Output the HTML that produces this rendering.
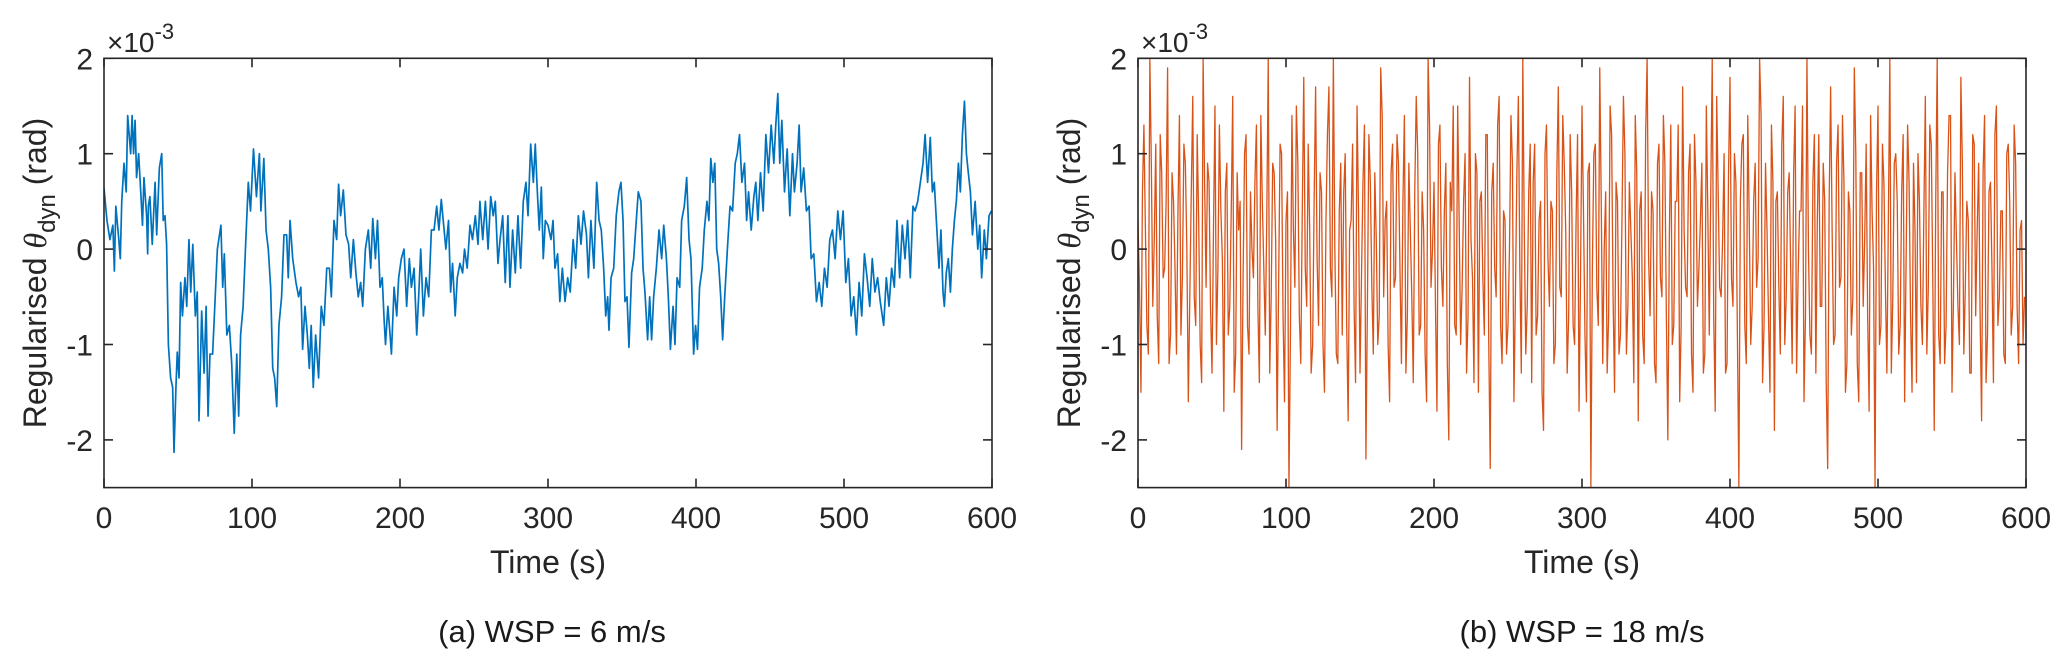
<!DOCTYPE html>
<html><head><meta charset="utf-8"><style>
html,body{margin:0;padding:0;background:#fff;}
svg{display:block;font-family:"Liberation Sans",sans-serif;}
</style></head><body>
<svg id="fig" width="2067" height="667" viewBox="0 0 2067 667" xmlns="http://www.w3.org/2000/svg"></svg>
<script>
const xTicks=[0,100,200,300,400,500,600];
const yTicks=[-2,-1,0,1,2];
const yTickLabels=["-2","-1","0","1","2"];
const blueT=[0,2,4,6,7,8,10,11,12,13.5,15,16,18,19,20,21,22,23.4,25,26,27,28.8,29.5,30,31,32.6,34.5,35.6,37.4,39,40,41.2,42.3,43.5,45,46.4,47.3,48.6,49.5,50.7,51.8,53,54.7,55.9,57.4,58.6,60,61.7,63,64.2,66,67.6,69,70.3,71.6,73.4,75,76.6,79,80.2,81.3,83,84.7,86.3,88,89.7,91,92.3,94,95.7,97.5,99,101,103,105,106,108,109.5,111,112.6,114,115.3,116.7,118.2,120,121.6,123.4,124.5,125.7,127.5,129.7,131.5,133,134.2,135.8,137.4,138.7,140,141.4,143,145,146.8,148.6,150.5,152.3,153.6,155.4,157.2,158.5,159.9,161.7,163.5,165.3,166.7,168.5,170.2,171.8,173.4,174.8,176.6,178.6,180.2,181.6,183.4,184.8,186.5,188,189.3,190.2,191.8,193.3,194.2,196,197.8,199.1,200.9,202.7,204.5,206.3,207.7,209.5,211.3,212.6,214,215.8,217.6,219.4,221.2,223,224.8,226.3,227.9,229.2,231,232.8,234.2,235.5,237.3,238.7,240.5,242.3,243.6,245.4,247.3,249,250.9,252.7,254,255.9,257.7,259.5,261.3,263,264.4,266.2,267.6,269.4,271.1,272.9,274.3,276.1,277.9,279.7,281.5,283.3,285.1,286.5,288.3,290.1,291.4,292.8,294.1,295.5,296.8,298.2,300,302,303.4,304.7,306.5,308,309.7,311.5,313.3,315,317,318.7,320.5,322.3,324,326,327.3,329,331,332.9,334.5,336,337.6,339,340.3,341.2,342.6,344.4,346.1,347.9,349.3,350.7,352,353.4,354.7,356.5,357.9,359.2,361,362.8,364.2,365.5,367.3,368.7,370,371.4,373.2,375,376.8,378.2,380,381.3,382.7,384.5,385.8,387.2,389,390.3,392.1,393.7,395.3,396.6,398.4,399.7,401,402.4,404.2,405.6,407.4,408.7,410,411.4,412.7,414,415.3,416.7,418,419.4,421.2,423,424.7,426.5,427.9,429.4,431,432.8,434.2,435.5,437.3,439.1,440.4,441.8,443.6,445.4,447.2,449,450.8,452.6,453.9,455.3,456.6,458,459.8,461.6,463.4,465.2,466.5,468.3,469.7,471,472.8,474.6,476.4,477.8,479.6,481.4,483.2,485,486.8,488.6,490.4,492.2,494,495.8,497.6,499.4,501.2,503,504.8,506.6,508.4,510.2,512,513.8,515.6,517.4,519.1,520.9,522.7,524.5,526.8,528.6,530.4,532.2,534,535.8,537.6,539.4,541.2,543,544.8,546.6,548,549.8,551.6,553.4,554.8,556.5,558.3,559.7,561,562.4,564.2,565.5,566.9,567.8,569.1,570.5,571.9,573.2,574.6,575.9,577.3,578.6,580,581.4,582.7,584,585.4,586.8,588.6,590.4,591.7,593,594.8,596.2,598,599.6];
const blueV=[0.64,0.30,0.10,0.25,-0.23,0.45,0.10,-0.10,0.50,0.90,0.60,1.40,1.00,1.40,1.00,1.35,0.75,1.00,0.55,0.25,0.75,0.35,-0.05,0.45,0.55,0.05,0.70,0.15,0.85,1.00,0.30,0.35,0.05,-1.00,-1.35,-1.45,-2.13,-1.45,-1.08,-1.35,-0.35,-0.70,-0.30,-0.60,0.10,-0.45,0.05,-0.70,-0.45,-1.80,-0.65,-1.30,-0.60,-1.75,-1.10,-1.10,-0.55,0.00,0.25,-0.40,-0.05,-0.90,-0.80,-1.20,-1.93,-1.10,-1.75,-0.90,-0.60,0.05,0.70,0.40,1.05,0.55,1.00,0.40,0.95,0.20,0.00,-0.40,-1.25,-1.35,-1.65,-0.80,-0.50,0.15,0.15,-0.30,0.30,-0.10,-0.35,-0.50,-0.40,-1.05,-0.60,-0.90,-1.25,-0.80,-1.45,-0.90,-1.35,-0.60,-0.80,-0.20,-0.20,-0.50,0.30,0.10,0.68,0.35,0.62,0.15,0.05,-0.30,0.10,-0.25,-0.50,-0.35,-0.60,0.00,0.20,-0.20,0.32,-0.10,0.30,-0.40,-0.30,-0.75,-1.00,-0.60,-0.90,-1.10,-0.40,-0.70,-0.30,-0.10,0.00,-0.60,-0.10,-0.40,-0.20,-0.90,-0.50,0.00,-0.70,-0.30,-0.50,0.20,0.20,0.45,0.20,0.52,0.30,0.00,0.30,-0.45,-0.15,-0.70,-0.30,-0.15,-0.25,0.00,-0.20,0.25,0.10,0.35,0.05,0.50,0.10,0.50,0.00,0.55,0.35,0.50,-0.15,0.10,0.35,-0.35,0.35,-0.40,0.20,-0.25,0.35,-0.20,0.50,0.70,0.35,1.10,0.70,1.10,0.60,0.20,0.65,-0.10,0.30,0.25,0.10,0.30,-0.20,-0.05,-0.55,-0.20,-0.55,-0.30,-0.45,0.10,-0.20,0.35,0.05,0.40,0.15,-0.30,0.30,-0.20,0.70,0.30,0.20,-0.20,-0.70,-0.50,-0.85,-0.30,-0.20,0.35,0.60,0.70,0.30,-0.55,-0.50,-1.03,-0.25,-0.10,0.20,0.60,0.50,-0.20,-0.45,-0.95,-0.50,-0.95,-0.50,-0.20,0.20,-0.10,0.25,-0.10,-0.50,-1.05,-0.60,-1.00,-0.30,-0.40,0.30,0.45,0.75,0.10,-0.10,-1.10,-0.80,-1.05,-0.40,-0.20,0.20,0.50,0.30,0.95,0.70,0.90,0.00,-0.15,-0.50,-0.95,-0.50,0.00,0.45,0.40,0.90,1.00,1.20,0.70,0.90,0.30,0.60,0.20,0.55,0.70,0.30,0.80,0.40,1.20,0.80,1.30,0.90,1.30,1.63,0.90,1.35,0.60,1.05,0.35,1.00,0.60,0.90,1.30,0.60,0.85,0.40,0.45,-0.10,-0.05,-0.55,-0.35,-0.60,-0.20,-0.40,0.10,0.20,-0.10,0.40,0.10,0.40,-0.35,-0.10,-0.70,-0.50,-0.90,-0.35,-0.70,-0.05,-0.30,-0.60,-0.10,-0.45,-0.30,-0.55,-0.80,-0.30,-0.60,-0.20,-0.40,0.30,-0.30,0.25,-0.10,0.30,-0.30,0.45,0.40,0.50,0.70,0.90,1.20,0.70,1.17,0.60,0.70,0.30,-0.20,0.20,-0.45,-0.60,-0.25,-0.10,-0.45,0.00,0.30,0.50,0.90,0.60,1.20,1.55,1.00,0.80,0.60,0.15,0.50,0.00,0.25,-0.30,0.20,-0.10,0.35,0.40];
// orange: values at even seconds (orangeEven) and odd seconds (orangeOdd)
const orangeEven=[0.3,-1.5,1.3,-0.8,2.0,-0.6,1.1,-1.2,0.8,-0.2,1.9,-0.9,0.5,-1.1,1.4,-0.3,0.9,-1.6,0.6,-0.5,1.2,-1.0,2.0,-0.4,0.7,-1.3,1.5,-0.2,0.4,-1.7,0.9,-0.6,1.6,-1.1,0.2,-2.1,1.0,-0.8,0.6,-0.3,1.3,-1.4,0.5,-0.9,2.0,-0.5,0.8,-1.9,1.1,-0.7,0.3,-2.5,1.4,-0.4,0.9,-1.2,1.8,-0.6,0.2,-1.0,1.7,-0.8,0.6,-1.5,1.2,-0.2,2.0,-1.1,0.4,-0.9,1.0,-1.8,0.3,-0.6,1.5,-1.3,0.7,-2.2,1.2,-0.4,0.8,-1.0,1.9,-0.5,0.5,-1.6,1.1,-0.3,0.9,-1.2,1.4,-0.7,0.2,-1.4,1.6,-0.9,0.6,-1.1,2.0,-0.4,0.7,-1.7,1.3,-0.6,0.9,-2.0,0.4,-0.8,1.5,-1.0,0.5,-1.3,1.8,-0.3,1.0,-1.5,0.6,-0.9,1.2,-2.3,0.9,-0.5,1.6,-1.2,0.3,-0.8,1.4,-1.6,0.8,-0.2,2.0,-1.1,0.6,-1.4,1.1,-0.7,0.5,-1.9,1.3,-0.6,0.4,-1.0,1.7,-0.5,0.9,-1.3,1.2,-0.8,0.3,-1.7,1.5,-0.9,0.8,-2.5,1.0,-0.4,1.9,-1.2,0.6,-0.7,1.2,-1.5,0.5,-0.9,1.6,-1.1,0.7,-0.3,1.4,-1.8,0.6,-1.2,2.0,-0.7,0.4,-1.4,1.1,-0.5,0.9,-2.0,1.3,-0.8,0.5,-1.6,1.7,-0.4,0.8,-1.1,1.2,-0.6,0.3,-1.3,1.5,-0.9,2.0,-1.7,0.6,-0.5,1.0,-1.2,1.8,-0.6,0.7,-2.5,1.1,-0.8,1.4,-1.0,0.5,-0.4,2.0,-1.4,0.9,-0.7,1.3,-1.9,0.6,-1.1,1.6,-0.5,0.8,-1.2,1.5,-0.3,0.4,-1.6,2.0,-0.9,0.7,-1.3,1.2,-0.6,0.5,-2.3,1.7,-1.0,0.9,-0.4,1.4,-1.5,0.6,-0.9,1.9,-1.2,0.8,-0.6,1.1,-1.7,0.4,-2.5,1.5,-0.8,0.7,-1.3,2.0,-0.5,1.0,-1.1,0.6,-1.6,1.3,-0.7,0.9,-1.4,0.5,-1.0,1.6,-0.4,1.1,-1.9,2.0,-1.2,0.6,-0.8,1.4,-1.5,0.8,-0.6,1.8,-1.1,0.5,-1.3,1.2,-0.7,0.9,-1.8,1.4,-0.9,0.7,-1.4,1.5,-0.5,0.4,-1.2,1.1,-0.9,1.3,-0.6,0.2,-1.0];
const orangeOdd=[-0.4,0.6,0.2,-1.1,0.9,0.1,-0.7,1.2,-0.3,0.5,-1.2,0.8,-0.2,0.4,-0.9,1.1,0.0,-0.5,1.6,-0.8,0.3,-1.4,0.7,0.9,-0.6,0.2,-1.0,1.3,-0.1,0.6,-0.9,0.4,-1.5,0.8,0.5,-0.3,1.2,-1.1,0.0,0.7,-0.6,1.4,-0.2,0.3,-1.3,0.9,0.1,-0.4,1.0,-1.6,0.6,-0.9,0.2,1.5,-0.7,0.4,-0.2,1.1,-1.3,0.5,-0.1,0.8,-1.0,0.3,1.7,-0.5,0.0,-1.2,0.9,0.6,-0.8,0.2,1.1,-1.4,0.4,-0.3,1.3,-0.6,0.7,-1.1,0.1,-0.7,1.4,0.3,-1.0,0.8,-0.4,1.2,-0.2,0.5,-1.3,0.9,-0.5,0.6,1.0,-0.8,0.2,-1.6,1.3,0.0,-0.6,1.1,-0.2,0.4,-1.2,0.7,1.5,-0.9,0.3,-0.4,1.0,-0.7,0.1,-1.4,0.8,0.5,-0.3,1.2,-1.0,0.6,-0.2,1.3,-0.8,0.4,-1.1,0.0,0.9,-0.5,1.6,-1.3,0.2,-0.6,1.1,0.7,-0.9,0.3,-1.5,1.0,-0.1,0.5,-1.2,0.8,-0.4,1.4,0.2,-0.7,0.6,-1.0,1.2,-0.3,0.4,-1.6,0.9,-0.2,1.1,-0.8,0.5,0.0,-1.3,1.5,-0.5,0.7,-1.1,0.3,1.0,-0.6,0.2,-1.4,0.8,0.4,-0.9,1.2,-0.1,0.6,-1.2,0.9,-0.3,1.4,-0.7,0.1,-1.0,0.5,1.3,-0.8,0.2,-0.5,1.1,-1.5,0.7,-0.2,0.9,-1.1,0.4,0.6,-0.7,1.6,-0.4,0.1,-1.3,0.8,-0.3,1.0,-0.9,0.5,1.2,-1.2,0.3,-0.6,0.9,-0.1,1.4,-0.8,0.2,-1.5,0.7,0.5,-0.4,1.1,-1.0,0.6,-0.2,0.8,-1.3,0.4,1.5,-0.7,0.0,-1.1,1.2,0.3,-0.6,0.9,-1.4,0.5,0.2,-0.9,1.3,-0.3,0.7,-1.2,0.4,-0.5,1.0,-1.6,0.8,0.1,-0.7,1.4,-0.2,0.6,-1.0,1.1,-0.4,0.3,-1.3,0.9,0.5,-0.8,1.2,-0.1,0.7,-1.5,0.2,1.0,-0.6,0.4,-1.1,1.3,-0.3,0.5,-0.9,0.6,-1.2,0.8,1.4,-0.5,0.1,-1.0,0.9,-0.4,0.3,-1.3,1.1,0.2,-0.7,0.8,-1.4,0.6,-0.2,1.2,-0.8,0.4,-1.1,1.0,0.5,-0.6,0.9,-1.2,0.3,-0.5];

const NS="http://www.w3.org/2000/svg";
const svg=document.getElementById('fig');
function mk(tag,attrs,parent){const e=document.createElementNS(NS,tag);for(const k in attrs)e.setAttribute(k,attrs[k]);(parent||svg).appendChild(e);return e;}
const YTOP=58.3,YBOT=487.6,YMAX=2,YMIN=-2.5;
function yS(v){return YTOP+(YMAX-v)/(YMAX-YMIN)*(YBOT-YTOP);}

function panel(id,x0,x1,ts,vs,color,sw,caption,capX){
  const xS=t=>x0+t/600*(x1-x0);
  const g=mk('g',{});
  
  
  const clip=mk('clipPath',{id:id+'-clip'},g);
  mk('rect',{x:x0,y:YTOP,width:x1-x0,height:YBOT-YTOP},clip);
  let d='';
  for(let i=0;i<vs.length;i++){d+=(i?'L':'M')+xS(ts[i]).toFixed(2)+' '+yS(vs[i]).toFixed(2);}
  const line=mk('path',{d:d,fill:'none',stroke:color,'stroke-width':sw,'stroke-linejoin':'round','clip-path':'url(#'+id+'-clip)'},g);
  
  
  const box=mk('rect',{x:x0,y:YTOP,width:x1-x0,height:YBOT-YTOP,fill:'none',stroke:'#262626','stroke-width':1.6},g);
  
  
  xTicks.forEach(t=>{
    const x=xS(t);
    mk('line',{x1:x,x2:x,y1:YBOT,y2:YBOT-9,stroke:'#262626','stroke-width':1.6},g);
    mk('line',{x1:x,x2:x,y1:YTOP,y2:YTOP+9,stroke:'#262626','stroke-width':1.6},g);
    const tx=mk('text',{x:x,y:528,'font-size':30,'text-anchor':'middle',fill:'#262626'},g);
    tx.textContent=t;
    
    
  });
  yTicks.forEach((v,i)=>{
    const y=yS(v);
    mk('line',{x1:x0,x2:x0+9,y1:y,y2:y,stroke:'#262626','stroke-width':1.6},g);
    mk('line',{x1:x1,x2:x1-9,y1:y,y2:y,stroke:'#262626','stroke-width':1.6},g);
    const tx=mk('text',{x:x0-11,y:y+11,'font-size':30,'text-anchor':'end',fill:'#262626'},g);
    tx.textContent=yTickLabels[i];
    
    
  });
  const ex=mk('text',{x:x0+3,y:52,'font-size':28,fill:'#262626'},g);
  ex.innerHTML='×10<tspan dy="-13" font-size="22">-3</tspan>';
  
  
  const xl=mk('text',{x:(x0+x1)/2,y:573,'font-size':32,'text-anchor':'middle',fill:'#262626'},g);
  xl.textContent='Time (s)';
  
  
  const yl=mk('text',{x:0,y:0,'font-size':32,'text-anchor':'middle',fill:'#262626',transform:'translate('+(x0-58)+',273) rotate(-90)'},g);
  yl.innerHTML='Regularised <tspan font-family="Liberation Serif" font-style="italic">θ</tspan><tspan dy="9" font-size="24">dyn</tspan><tspan dy="-9"> (rad)</tspan>';
  
  
  const cp=mk('text',{x:capX,y:642,'font-size':31,'text-anchor':'middle',fill:'#1a1a1a'},g);
  cp.textContent=caption;
  
  
}
const orangeT=[],orangeV=[];
for(let i=0;i<orangeEven.length;i++){
  orangeT.push(2*i);orangeV.push(orangeEven[i]);
  if(i<orangeOdd.length){orangeT.push(2*i+1);orangeV.push(orangeOdd[i]);}
}
panel('panel-a',104,992,blueT,blueV,'#0072BD',1.7,'(a) WSP = 6 m/s',552);
panel('panel-b',1138,2026,orangeT,orangeV,'#D95319',1.3,'(b) WSP = 18 m/s',1582);
</script>
</body></html>
